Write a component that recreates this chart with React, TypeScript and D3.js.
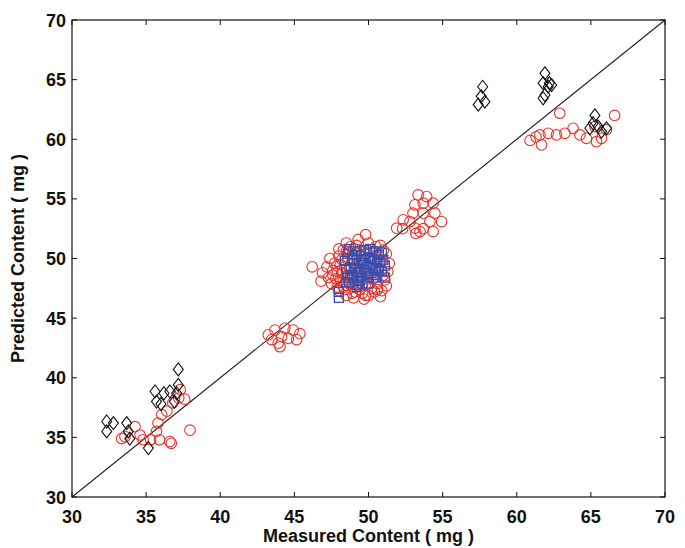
import React from "react";
import * as d3 from "d3";

const xTicks = [30, 35, 40, 45, 50, 55, 60, 65, 70];
const yTicks = [30, 35, 40, 45, 50, 55, 60, 65, 70];

// Red circles
const redX = [
  33.35, 33.57, 34.25, 34.59, 34.8, 35.3, 35.7, 35.8, 35.9, 36.05, 36.4, 36.6, 36.7, 36.8, 37.2, 37.3, 37.6, 37.96,
  43.24, 43.47, 43.69, 43.91, 44.14, 44.36, 44.59, 44.92, 45.15, 45.37, 44.03,
  46.2, 46.9, 46.8, 47.4, 47.6, 47.8, 47.9, 48.0, 48.1, 48.2, 48.3, 48.4, 48.5, 48.5, 48.6, 48.7, 48.8, 48.9, 48.9, 49.0,
  49.2, 49.3, 49.4, 49.5, 49.6, 49.4, 49.8, 49.8, 50.0, 50.1, 50.2, 50.3, 50.4, 50.5, 50.6, 50.8, 50.9, 51.0, 51.2, 51.2,
  51.4, 49.0, 47.6, 48.0, 47.3, 49.8, 50.7,
  47.7, 47.9, 48.1, 48.3, 48.2, 48.4, 48.6, 48.7, 48.9, 49.1, 49.2, 49.3, 48.3, 48.8, 49.1, 49.6, 50.0, 50.4, 50.6, 50.9,
  51.1, 51.3, 50.8, 51.0, 49.3, 48.0, 47.5, 47.2, 48.5, 49.7,
  51.9, 52.3, 52.34, 52.8, 53.0, 53.13, 53.13, 53.2, 53.35, 53.47, 53.69, 53.69, 53.7, 53.92, 54.14, 54.36, 54.36, 54.48, 54.93,
  60.9, 61.3, 61.56, 61.67, 62.12, 62.68, 62.9, 63.25, 63.8, 64.26, 64.7, 65.27, 65.38, 65.72, 66.05, 66.6
];
const redY = [
  34.9, 35.07, 35.9, 35.2, 34.8, 34.8, 35.5, 36.2, 34.8, 36.9, 37.2, 34.65, 34.5, 37.9, 38.3, 39.0, 38.2, 35.6,
  43.6, 43.2, 44.0, 42.9, 43.45, 44.15, 43.3, 44.0, 43.2, 43.7, 42.6,
  49.3, 48.8, 48.1, 50.0, 49.0, 48.3, 47.6, 50.2, 49.5, 48.8, 48.1, 47.4, 51.3, 50.6, 49.9, 49.2, 48.5, 47.8, 47.1, 46.7,
  51.1, 50.4, 49.7, 48.9, 48.2, 47.4, 52.0, 46.9, 51.3, 50.6, 47.5, 48.3, 49.0, 51.0, 47.9, 46.8, 49.8, 48.6, 50.4, 47.7,
  49.6, 50.8, 48.6, 47.3, 48.4, 47.8, 50.2,
  49.6, 48.9, 48.2, 47.6, 49.9, 49.3, 48.6, 47.9, 50.3, 49.0, 48.4, 47.7, 50.7, 51.0, 47.2, 47.1, 46.9, 47.2, 47.4, 47.3,
  48.2, 48.9, 51.1, 50.7, 51.6, 50.8, 47.9, 49.3, 46.9, 46.6,
  52.54, 52.5, 53.24, 53.1, 53.8, 54.5, 52.54, 52.1, 55.33, 52.26, 54.64, 53.8, 52.5, 55.19, 53.1, 54.64, 52.26, 53.8, 53.1,
  59.9, 60.2, 60.36, 59.52, 60.5, 60.36, 62.18, 60.5, 60.92, 60.36, 60.08, 61.06, 59.8, 60.08, 60.8, 62.0
];

// Black diamonds
const blackX = [
  32.34, 32.79, 32.34, 33.69, 33.8, 33.9, 35.15, 35.6, 35.7, 36.2, 36.6, 37.06, 37.17, 37.17, 36.0, 36.9,
  57.7, 57.6, 57.4, 57.85,
  61.9, 61.78, 62.12, 61.9, 62.2, 62.35, 61.78,
  65.27, 65.15, 64.93, 65.49, 66.05, 65.72
];
const blackY = [
  36.33, 36.2, 35.5, 36.2, 35.5, 34.9, 34.1, 38.85, 38.0, 38.7, 38.85, 38.7, 39.4, 40.7, 37.8, 38.0,
  64.4, 63.6, 62.9, 63.15,
  65.53, 64.7, 64.41, 63.71, 64.7, 64.55, 63.44,
  62.0, 61.34, 60.92, 61.06, 60.92, 60.64
];

// Blue squares
const blueX = [
  48.4, 48.6, 48.8, 48.9, 49.0, 49.1, 49.2, 49.3, 49.4, 49.5, 49.6, 49.7, 49.8, 49.9, 50.0, 50.1, 50.2, 50.3,
  50.4, 50.5, 50.6, 50.7, 50.8, 50.9, 51.0, 49.3, 50.0, 48.7, 48.0, 48.0, 49.0,
  48.5, 48.6, 48.7, 48.9, 49.0, 49.1, 49.2, 49.4, 49.4, 49.5, 49.6, 49.7, 49.8, 49.9, 50.0, 50.1, 50.2, 50.3,
  50.4, 50.5, 50.6, 50.7, 50.9, 51.1, 49.2, 48.5, 51.1
];
const blueY = [
  49.8, 50.4, 49.2, 48.6, 50.0, 50.6, 49.4, 48.8, 48.1, 50.2, 49.6, 50.7, 49.0, 48.4, 50.1, 49.5, 48.8, 50.5,
  49.9, 49.2, 48.6, 50.3, 49.6, 48.9, 49.9, 47.8, 47.9, 48.0, 47.2, 46.7, 49.6,
  49.1, 48.4, 50.8, 49.9, 48.2, 49.1, 50.3, 50.6, 49.1, 48.5, 47.9, 49.9, 50.4, 49.3, 48.7, 50.8, 50.0, 49.2,
  48.4, 50.6, 49.7, 49.0, 50.5, 49.4, 47.6, 48.0, 48.4
];

const W = 685;
const H = 548;
const L = 72, R = 665, T = 20, B = 497;

export default function App() {
  const x = d3.scaleLinear().domain([30, 70]).range([L, R]);
  const y = d3.scaleLinear().domain([30, 70]).range([B, T]);
  const red = "#e8332a";
  const blue = "#3a4cae";
  const tick = 5;
  const font = "'Liberation Sans', Arial, sans-serif";
  const diamond = (cx: number, cy: number) =>
    `M${cx},${cy - 6.5} L${cx + 5},${cy} L${cx},${cy + 6.5} L${cx - 5},${cy} Z`;

  return (
    <svg width={W} height={H} style={{ position: "absolute", left: 0, top: 0, background: "#fff" }}>
      <rect x={0} y={0} width={W} height={H} fill="#fff" />
      <line x1={x(30)} y1={y(30)} x2={x(70)} y2={y(70)} stroke="#222" strokeWidth={1.1} />
      {redX.map((v, i) => (
        <circle key={"r" + i} cx={x(v)} cy={y(redY[i])} r={5.3} fill="none" stroke={red} strokeWidth={1.1} />
      ))}
      {blackX.map((v, i) => (
        <path key={"k" + i} d={diamond(x(v), y(blackY[i]))} fill="none" stroke="#111" strokeWidth={1.1} />
      ))}
      {blueX.map((v, i) => (
        <rect key={"b" + i} x={x(v) - 4.5} y={y(blueY[i]) - 4.5} width={9} height={9} fill="none" stroke={blue} strokeWidth={1.3} />
      ))}
      <rect x={L} y={T} width={R - L} height={B - T} fill="none" stroke="#111" strokeWidth={1.2} />
      {xTicks.map((t) => (
        <g key={"xt" + t}>
          <line x1={x(t)} x2={x(t)} y1={B} y2={B - tick} stroke="#111" />
          <line x1={x(t)} x2={x(t)} y1={T} y2={T + tick} stroke="#111" />
          <text x={x(t)} y={523} textAnchor="middle" fontFamily={font} fontWeight="bold" fontSize={18} fill="#111">
            {t}
          </text>
        </g>
      ))}
      {yTicks.map((t) => (
        <g key={"yt" + t}>
          <line x1={L} x2={L + tick} y1={y(t)} y2={y(t)} stroke="#111" />
          <line x1={R} x2={R - tick} y1={y(t)} y2={y(t)} stroke="#111" />
          <text x={66} y={y(t) + 6.5} textAnchor="end" fontFamily={font} fontWeight="bold" fontSize={18} fill="#111">
            {t}
          </text>
        </g>
      ))}
      <text x={(L + R) / 2} y={542} textAnchor="middle" fontFamily={font} fontWeight="bold" fontSize={18} fill="#111">
        Measured Content ( mg )
      </text>
      <text
        transform={`translate(24, ${(T + B) / 2}) rotate(-90)`}
        textAnchor="middle"
        fontFamily={font}
        fontWeight="bold"
        fontSize={18}
        fill="#111"
      >
        Predicted Content ( mg )
      </text>
    </svg>
  );
}
